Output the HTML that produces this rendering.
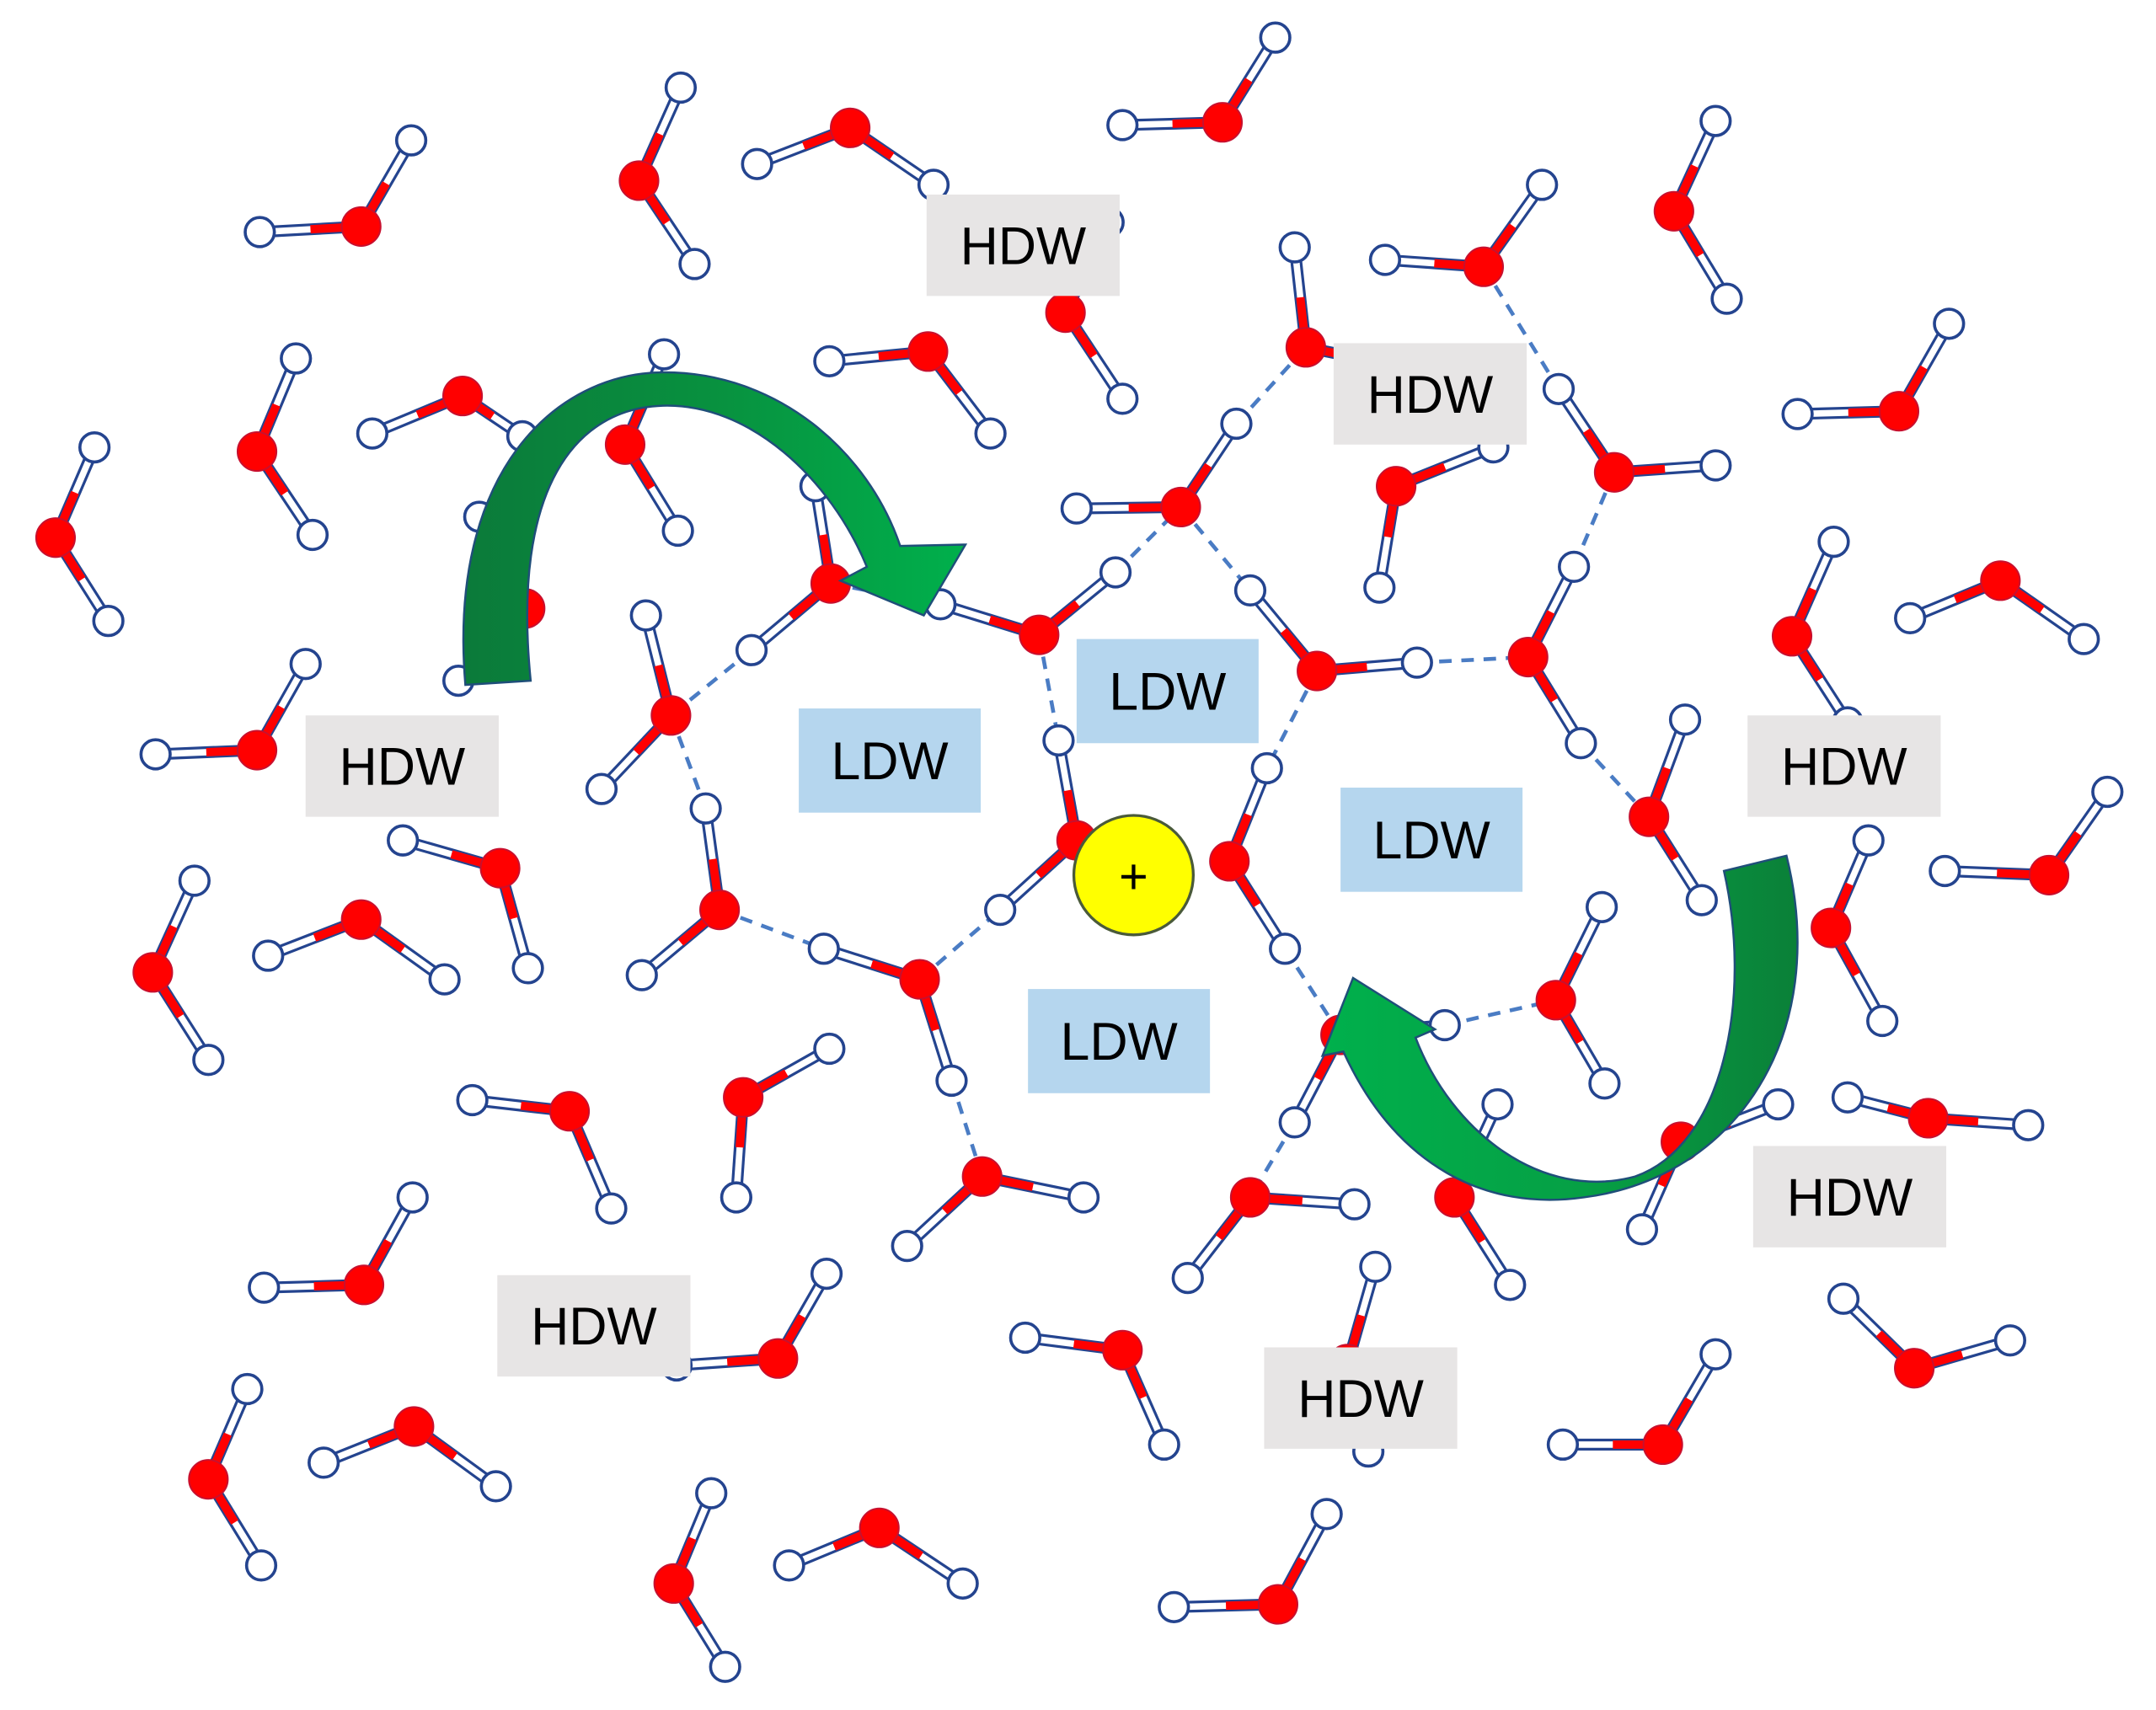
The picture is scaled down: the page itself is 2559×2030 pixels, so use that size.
<!DOCTYPE html>
<html><head><meta charset="utf-8"><style>
html,body{margin:0;padding:0;background:#fff;}
svg{display:block;}
text{font-family:"Liberation Sans",sans-serif;}
</style></head><body>
<svg id="s" width="2559" height="2030" viewBox="0 0 1552 1231" xmlns="http://www.w3.org/2000/svg">
<defs>
<linearGradient id="g1" x1="0" y1="0" x2="1" y2="0">
<stop offset="0" stop-color="#0b7a3a"/><stop offset="0.5" stop-color="#08913f"/><stop offset="1" stop-color="#00b04c"/>
</linearGradient>
<linearGradient id="g2" x1="1" y1="0" x2="0" y2="0">
<stop offset="0" stop-color="#0a8038"/><stop offset="0.45" stop-color="#06a045"/><stop offset="1" stop-color="#00b04c"/>
</linearGradient>
</defs>
<g id="dash" stroke="#4a7cc4" stroke-width="2.8" stroke-dasharray="9,7" fill="none"></g>
<g id="mol"></g>
<g id="boxes"></g>
<g id="top"></g>
</svg>
<script>
var NS="http://www.w3.org/2000/svg";
function el(p,t,a){var e=document.createElementNS(NS,t);for(var k in a)e.setAttribute(k,a[k]);p.appendChild(e);return e;}
var mols=[
[[260,163],[187,167],[296,101]],
[[460,130],[490,63],[500,190]],
[[612,92],[545,118],[672,133]],
[[880,88],[808,90],[918,27]],
[[1068,192],[997,187],[1110,133]],
[[1205,152],[1235,87],[1243,215]],
[[940,250],[932,178],[1000,262]],
[[767,225],[808,287],[798,160]],
[[668,253],[597,260],[713,312]],
[[1367,296],[1294,298],[1403,233]],
[[1162,340],[1122,280],[1235,335]],
[[1005,350],[993,423],[1075,322]],
[[850,365],[775,366],[890,305]],
[[333,285],[268,312],[376,314]],
[[185,325],[213,258],[225,385]],
[[450,320],[478,255],[488,382]],
[[40,387],[68,322],[78,447]],
[[598,420],[587,350],[541,468]],
[[748,457],[677,435],[803,412]],
[[378,438],[345,372],[330,490]],
[[185,540],[112,543],[220,478]],
[[483,515],[465,443],[433,568]],
[[948,483],[900,425],[1020,477]],
[[1100,473],[1133,408],[1138,535]],
[[1290,458],[1320,390],[1330,520]],
[[1440,418],[1375,445],[1500,460]],
[[775,605],[762,533],[720,655]],
[[885,620],[912,553],[925,683]],
[[1187,588],[1213,518],[1225,648]],
[[1475,630],[1400,627],[1517,570]],
[[360,625],[290,605],[380,697]],
[[110,700],[140,634],[150,763]],
[[260,662],[193,688],[320,705]],
[[518,655],[508,582],[462,702]],
[[662,705],[593,683],[685,778]],
[[1318,668],[1345,605],[1355,735]],
[[1120,720],[1153,653],[1155,780]],
[[965,745],[1040,738],[932,808]],
[[410,800],[340,792],[440,870]],
[[535,790],[597,755],[530,862]],
[[707,847],[653,897],[780,862]],
[[900,862],[855,920],[975,867]],
[[1047,862],[1078,795],[1087,925]],
[[1210,822],[1182,885],[1280,795]],
[[1388,805],[1460,810],[1330,790]],
[[262,925],[190,927],[297,862]],
[[560,978],[595,917],[487,983]],
[[808,972],[738,963],[838,1040]],
[[970,982],[990,912],[985,1045]],
[[1197,1040],[1125,1040],[1235,975]],
[[1378,985],[1327,935],[1447,965]],
[[150,1065],[178,1000],[188,1127]],
[[298,1027],[233,1053],[357,1070]],
[[485,1140],[512,1075],[522,1200]],
[[633,1100],[568,1127],[693,1140]],
[[920,1155],[845,1157],[955,1090]]
];
var dashes=[[541,468,483,515],[483,515,508,582],[518,655,593,683],[662,705,720,655],[748,457,762,533],[598,420,677,435],[803,412,850,365],[850,365,900,425],[890,305,940,250],[1068,192,1122,280],[1162,340,1133,408],[1020,477,1100,473],[948,483,912,553],[1138,535,1187,588],[925,683,965,745],[1040,738,1120,720],[932,808,900,862],[685,778,707,847]];
var D=document.getElementById('dash');
dashes.forEach(function(d){el(D,'line',{x1:d[0],y1:d[1],x2:d[2],y2:d[3]});});
var M=document.getElementById('mol');
mols.forEach(function(m){
 var o=m[0];
 for(var i=1;i<3;i++){var h=m[i];
  el(M,'line',{x1:o[0],y1:o[1],x2:h[0],y2:h[1],stroke:'#24448f','stroke-width':8.5});
  el(M,'line',{x1:o[0],y1:o[1],x2:h[0],y2:h[1],stroke:'#fff','stroke-width':4.6});
  el(M,'line',{x1:o[0],y1:o[1],x2:(o[0]+h[0])/2,y2:(o[1]+h[1])/2,stroke:'#ff0000','stroke-width':6});
 }
 for(var i=1;i<3;i++){var h=m[i];el(M,'circle',{cx:h[0],cy:h[1],r:10.5,fill:'#fff',stroke:'#24448f','stroke-width':2.2});}
 el(M,'circle',{cx:o[0],cy:o[1],r:14,fill:'#ff0000',stroke:'#c8102e','stroke-width':1.2});
});
var B=document.getElementById('boxes');
var hd=[[667,140],[960,247],[220,515],[1258,515],[1262,825],[358,918],[910,970]];
hd.forEach(function(b){el(B,'rect',{x:b[0],y:b[1],width:139,height:73,fill:'#e7e5e5'});
 var t=el(B,'text',{x:b[0]+69.5,y:b[1]+50,'text-anchor':'middle','font-size':38,fill:'#000'});t.textContent='HDW';});
var ld=[[775,460],[575,510],[965,567],[740,712]];
ld.forEach(function(b){el(B,'rect',{x:b[0],y:b[1],width:131,height:75,fill:'#b5d6ee'});
 var t=el(B,'text',{x:b[0]+65.5,y:b[1]+51,'text-anchor':'middle','font-size':38,fill:'#000'});t.textContent='LDW';});
var T=document.getElementById('top');
el(T,'circle',{cx:816,cy:630,r:43,fill:'#ffff00',stroke:'#4a5a3a','stroke-width':2});
var p=el(T,'text',{x:816,y:643,'text-anchor':'middle','font-size':36,fill:'#000'});p.textContent='+';
el(T,'path',{d:'M335,493 C322,340 400,268 478,268 C560,268 625,325 648,393 L695,392 L665,443 L605,418 L624,408 C598,345 540,290 477,292 C415,294 368,350 382,490 Z',fill:'url(#g1)',stroke:'#1f4e79','stroke-width':1.5});
el(T,'path',{d:'M1241,627 C1262,720 1240,825 1177,847 C1110,865 1045,815 1019,747 L1033,741 L974,704 L952,760 L967,757 C1005,840 1070,872 1140,862 C1250,848 1318,745 1286,616 Z',fill:'url(#g2)',stroke:'#1f4e79','stroke-width':1.5});
</script>
</body></html>
